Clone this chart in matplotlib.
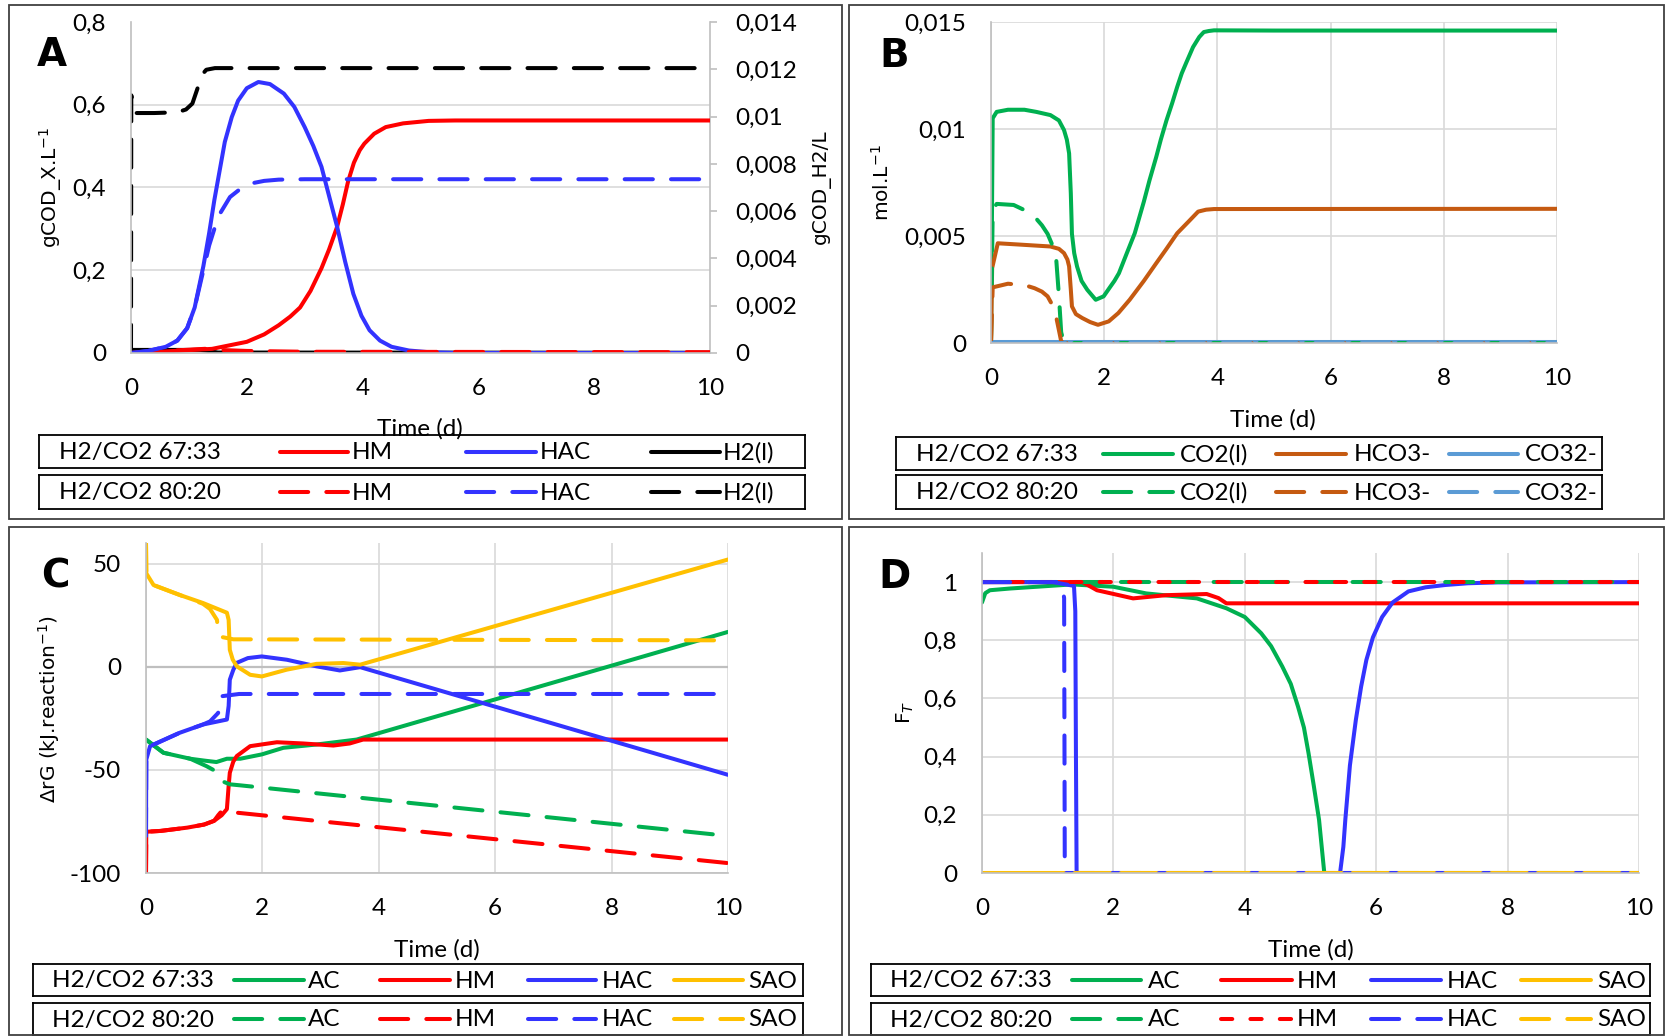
import matplotlib
matplotlib.use("Agg")
import matplotlib.pyplot as plt
from matplotlib.patches import Rectangle
from matplotlib.ticker import FuncFormatter, MultipleLocator, FixedLocator

W, H = 1666, 1036

# ---------------- data ----------------
# Panel A : biomass (left axis) and dissolved H2 (right axis)
a_hm_t = [0, 0.5, 1.0, 1.4, 2.0, 2.3, 2.55, 2.75, 2.92, 3.1, 3.29, 3.42, 3.56, 3.66, 3.75, 3.85, 3.95, 4.03, 4.2, 4.4,
          4.7, 5.14, 5.6, 10]
a_hm_v = [0, 0.003, 0.007, 0.01, 0.027, 0.045, 0.067, 0.088, 0.11, 0.15, 0.205, 0.25, 0.305, 0.36, 0.415, 0.46, 0.49,
          0.506, 0.53, 0.546, 0.555, 0.561, 0.562, 0.562]
a_hac_t = [0, 0.3, 0.6, 0.8, 0.97, 1.1, 1.25, 1.35, 1.44, 1.53, 1.62, 1.74, 1.85, 2.0, 2.2, 2.4, 2.64, 2.82, 3.0, 3.15,
           3.29, 3.42, 3.56, 3.7, 3.84, 3.98, 4.12, 4.3, 4.5, 4.8, 5.14, 5.6, 10]
a_hac_v = [0, 0.005, 0.015, 0.03, 0.06, 0.11, 0.21, 0.29, 0.37, 0.44, 0.51, 0.57, 0.61, 0.64, 0.655, 0.65, 0.627, 0.595,
           0.546, 0.5, 0.45, 0.38, 0.305, 0.22, 0.143, 0.09, 0.055, 0.03, 0.015, 0.006, 0.002, 0.0, 0.0]
a_h2_t = [0, 0.002, 1.2, 1.35, 1.5, 10]
a_h2_v = [0, 0.00013, 0.00013, 0.00008, 0.00002, 0.00001]
a_hm80_t = [0, 0.5, 1.0, 1.4, 1.6, 2.0, 3.0, 10]
a_hm80_v = [0, 0.004, 0.008, 0.011, 0.007, 0.005, 0.003, 0.002]
a_hac80_t = [0, 0.3, 0.6, 0.8, 0.97, 1.1, 1.25, 1.35, 1.44, 1.55, 1.71, 1.9, 2.08, 2.3, 2.55, 3, 10]
a_hac80_v = [0, 0.005, 0.015, 0.03, 0.06, 0.11, 0.2, 0.26, 0.30, 0.34, 0.377, 0.398, 0.41, 0.416, 0.419, 0.42, 0.42]
a_h280_t = [0, 0.005, 0.06, 0.4, 0.8, 0.95, 1.06, 1.15, 1.22, 1.3, 1.45, 10]
a_h280_v = [0, 0.0109, 0.01015, 0.01015, 0.01018, 0.0103, 0.01055, 0.0112, 0.01175, 0.01198, 0.01205, 0.01205]

# Panel B : carbonate species (mol/L)
b_co2_t = [0, 0.03, 0.1, 0.3, 0.59, 0.8, 1.05, 1.2, 1.29, 1.34, 1.38, 1.41, 1.43, 1.47, 1.52, 1.6, 1.7, 1.85, 1.99, 2.1,
           2.18, 2.26, 2.4, 2.54, 2.7, 2.8, 2.92, 3.0, 3.1, 3.2, 3.29, 3.37, 3.45, 3.57, 3.68, 3.76, 3.85, 3.94, 5, 10]
b_co2_v = [0, 0.0105, 0.0108, 0.0109, 0.0109, 0.0108, 0.01065, 0.0104, 0.00995, 0.0095, 0.00886, 0.007, 0.0051, 0.0042,
           0.00358, 0.0029, 0.00249, 0.00202, 0.00218, 0.0026, 0.0029, 0.00326, 0.0042, 0.00513, 0.0066, 0.0076,
           0.0087, 0.0095, 0.0104, 0.0112, 0.01197, 0.0126, 0.0131, 0.01383, 0.0143, 0.01453, 0.01458, 0.01461,
           0.0146, 0.0146]
b_hco3_t = [0, 0.02, 0.12, 0.5, 1.05, 1.2, 1.29, 1.35, 1.38, 1.41, 1.43, 1.5, 1.61, 1.75, 1.89, 2.08, 2.25, 2.45, 2.7,
            2.92, 3.1, 3.29, 3.5, 3.66, 3.8, 3.94, 10]
b_hco3_v = [0, 0.0035, 0.00466, 0.0046, 0.00451, 0.0044, 0.0042, 0.0039, 0.00358, 0.0025, 0.00171, 0.00135, 0.00117,
            0.00098, 0.00085, 0.00101, 0.0014, 0.00202, 0.0029, 0.00373, 0.0044, 0.00513, 0.0057, 0.00614, 0.00623,
            0.00626, 0.00627]
b_co3_t = [0, 10]
b_co3_v = [0.00003, 0.00003]
b_co280_t = [0, 0.03, 0.1, 0.4, 0.6, 0.77, 0.9, 1.0, 1.08, 1.15, 1.2, 1.24, 1.29, 10]
b_co280_v = [0, 0.0062, 0.0065, 0.00645, 0.0062, 0.0059, 0.0055, 0.0051, 0.0046, 0.004, 0.0022, 0.0005, 0, 0]
b_hco380_t = [0, 0.03, 0.3, 0.6, 0.77, 0.9, 1.0, 1.1, 1.15, 1.2, 1.24, 1.28, 10]
b_hco380_v = [0, 0.0026, 0.00277, 0.0027, 0.00256, 0.0024, 0.00218, 0.0017, 0.00124, 0.0006, 0.00008, 0, 0]
b_co380_t = [0, 10]
b_co380_v = [0, 0]

# Panel C : Gibbs energy of reaction (kJ/reaction)
c_ac_t = [0, 0.3, 0.76, 1.0, 1.21, 1.39, 1.62, 1.99, 2.36, 2.93, 3.62, 10]
c_ac_v = [-35.3, -41.7, -44.6, -45.5, -46.2, -44.6, -44.6, -42.5, -39.3, -37.7, -35.3, 16.9]
c_hm_t = [0, 0.005, 0.25, 0.71, 1.0, 1.17, 1.3, 1.39, 1.42, 1.44, 1.5, 1.56, 1.79, 2.25, 2.7, 3.22, 3.5, 3.73, 10]
c_hm_v = [-100, -80, -79.6, -78, -76.5, -74.7, -72, -69, -57.8, -51.4, -46, -43.3, -38.5, -36.6, -37.2, -38.2, -37.2,
          -35.3, -35.3]
c_hac_t = [0, 0.005, 0.07, 0.58, 0.98, 1.39, 1.42, 1.44, 1.5, 1.56, 1.75, 1.99, 2.42, 2.93, 3.33, 3.68, 10]
c_hac_v = [-82, -45, -38.5, -32, -28, -25.6, -19, -6.3, -1.5, 1.9, 4.2, 5.0, 3.4, 0.2, -1.8, -0.2, -52.4]
c_sao_t = [0, 0.005, 0.13, 0.58, 0.98, 1.39, 1.42, 1.44, 1.49, 1.56, 1.79, 1.99, 2.42, 2.93, 3.39, 3.68, 10]
c_sao_v = [60, 45.3, 39.6, 34.8, 30.9, 26.2, 22.7, 8.2, 3.5, 0.2, -3.9, -4.7, -1.4, 1.4, 1.8, 1.0, 52]
c_ac80_t = [0, 0.3, 0.76, 1.04, 1.24, 1.3, 1.44, 1.62, 10]
c_ac80_v = [-35.3, -41.7, -44.6, -48.2, -51.3, -55.4, -57, -57.5, -82]
c_hm80_t = [0, 0.005, 0.25, 0.71, 1.0, 1.17, 1.24, 1.3, 10]
c_hm80_v = [-100, -80, -79.6, -78, -76.5, -74.7, -72, -70, -95.2]
c_hac80_t = [0, 0.005, 0.07, 0.58, 0.98, 1.1, 1.24, 1.26, 1.3, 1.6, 10]
c_hac80_v = [-82, -45, -38.5, -32, -28, -26.5, -22.4, -16, -14.3, -13.2, -13.2]
c_sao80_t = [0, 0.005, 0.13, 0.58, 0.98, 1.1, 1.22, 1.24, 1.27, 1.5, 10]
c_sao80_v = [60, 45.3, 39.6, 34.8, 30.5, 28, 22.7, 16, 14.6, 13.3, 12.8]

# Panel D : thermodynamic factor F_T
d_ac_t = [0, 0.05, 0.12, 0.43, 1.37, 2.0, 2.5, 3.27, 3.72, 4.0, 4.25, 4.4, 4.57, 4.7, 4.81, 4.9, 4.97, 5.05, 5.13, 5.21, 10]
d_ac_v = [0.93, 0.962, 0.972, 0.978, 0.992, 0.984, 0.961, 0.944, 0.91, 0.88, 0.824, 0.78, 0.71, 0.65, 0.572, 0.5,
          0.412, 0.3, 0.183, 0.0, 0.0]
d_hm_t = [0, 1.53, 1.75, 2.3, 2.8, 3.42, 3.6, 3.72, 10]
d_hm_v = [1, 1, 0.972, 0.944, 0.955, 0.959, 0.945, 0.927, 0.927]
d_hac_t = [0, 1.08, 1.4, 1.42, 1.43, 1.44, 5.45, 5.5, 5.53, 5.6, 5.69, 5.77, 5.85, 5.95, 6.09, 6.25, 6.49, 6.75, 7.05,
           7.4, 7.85, 10]
d_hac_v = [1, 1, 0.987, 0.9, 0.4, 0, 0, 0.09, 0.183, 0.37, 0.526, 0.64, 0.732, 0.81, 0.88, 0.93, 0.968, 0.982, 0.99,
           0.996, 0.999, 1]
d_sao_t = [0, 10]
d_sao_v = [0, 0]
d_ac80_t = [0, 10]
d_ac80_v = [1, 1]
d_hm80_t = [0, 10]
d_hm80_v = [1, 1]
d_hac80_t = [0, 1.15, 1.22, 1.25, 1.26, 10]
d_hac80_v = [1, 1, 0.99, 0.945, 0, 0]
d_sao80_t = [0, 10]
d_sao80_v = [0, 0]

# ---------------- style ----------------
RED, BLUE, BLACK = "#FF0000", "#3333FF", "#000000"
GREEN, ORANGE, LBLUE, YELLOW = "#00B050", "#C55A11", "#5B9BD5", "#FFC000"
GRID, AXIS = "#d9d9d9", "#bfbfbf"
LW = 2.9
DASH = (7, 4.5)
DOT = (2.8, 4.5)
TICK_FONT = "Lato"
YLAB_FONT = "DejaVu Sans"
TICK_SIZE = 17.5
YLAB_SIZE = 14.5

fig = plt.figure(figsize=(W / 100, H / 100), dpi=100)


def px_box(x0, y0, x1, y1):
    return [x0 / W, 1 - y1 / H, (x1 - x0) / W, (y1 - y0) / H]


def comma(v, pos=None):
    return f"{round(v, 6):g}".replace(".", ",")


def line(ax, t, v, color, dashes=None, z=2):
    if dashes is None:
        ax.plot(t, v, color=color, lw=LW, solid_capstyle="round", solid_joinstyle="round", zorder=z)
    else:
        ax.plot(t, v, color=color, lw=LW, dashes=dashes, dash_capstyle="round", zorder=z)


def setup(ax, ymin, ymax, ystep, gridmax=None):
    ax.set_xlim(0, 10)
    ax.set_ylim(ymin, ymax)
    ax.xaxis.set_major_locator(MultipleLocator(2))
    top = gridmax if gridmax is not None else ymax
    ax.yaxis.set_major_locator(FixedLocator(
        [ymin + i * ystep for i in range(int(round((top - ymin) / ystep)) + 1)]))
    ax.yaxis.set_major_formatter(FuncFormatter(comma))
    ax.xaxis.set_major_formatter(FuncFormatter(comma))
    ax.tick_params(length=0, labelsize=TICK_SIZE)
    ax.tick_params(axis="y", pad=18)
    ax.tick_params(axis="x", pad=18)
    for lab in ax.get_xticklabels() + ax.get_yticklabels():
        lab.set_fontfamily(TICK_FONT)
    for s in ["top", "right"]:
        ax.spines[s].set_visible(False)
    for s in ["left", "bottom"]:
        ax.spines[s].set_color(AXIS)
        ax.spines[s].set_linewidth(1.2)
    ax.grid(True, color=GRID, lw=1.2)
    ax.set_axisbelow(True)


def legend_box(x0, x1, y0, y1, title, tx, entries, dashes):
    lax = fig.add_axes(px_box(x0, y0, x1, y1))
    lax.set_xlim(x0, x1)
    lax.set_ylim(y1, y0)
    lax.set_xticks([])
    lax.set_yticks([])
    for s in lax.spines.values():
        s.set_color("#000000")
        s.set_linewidth(1.3)
    yc = (y0 + y1) / 2
    lax.text(tx, yc + 1, title, fontsize=17.5, family=TICK_FONT, va="center", ha="left")
    for (lx0, lx1, ltx, name, color), dsh in zip(entries, dashes):
        if dsh is None:
            lax.plot([lx0, lx1], [yc, yc], color=color, lw=LW, solid_capstyle="round")
        else:
            lax.plot([lx0, lx1], [yc, yc], color=color, lw=LW, dashes=dsh, dash_capstyle="round")
        lax.text(ltx, yc + 1, name, fontsize=17.5, family=TICK_FONT, va="center", ha="left")


def label(x, y, s, rot=0, size=17.5, family=TICK_FONT, weight="normal"):
    fig.text(x / W, 1 - y / H, s, rotation=rot, fontsize=size, family=family, weight=weight,
             ha="center", va="center")


# panel frames
for (x0, y0, x1, y1) in [(9, 5, 842, 519), (849, 5, 1664, 519), (9, 527, 842, 1035), (849, 527, 1664, 1035)]:
    fig.add_artist(Rectangle((x0 / W, 1 - y1 / H), (x1 - x0) / W, (y1 - y0) / H, transform=fig.transFigure,
                             fill=False, edgecolor="#404040", lw=1.3))

# ---------------- panel A ----------------
axA = fig.add_axes(px_box(131, 22, 710, 353))
setup(axA, 0, 0.8, 0.2)
axA.grid(False)
tax = axA.twinx()
tax.set_ylim(0, 0.014)
tax.yaxis.set_major_locator(MultipleLocator(0.002))
tax.yaxis.set_major_formatter(FuncFormatter(comma))
tax.yaxis.set_minor_locator(FixedLocator([v * 0.014 / 0.8 for v in [0, 0.2, 0.4, 0.6, 0.8]]))
tax.tick_params(axis="y", which="major", length=5, color=AXIS, width=1.2, pad=13, labelsize=TICK_SIZE)
tax.tick_params(axis="y", which="minor", length=0)
for lab in tax.get_yticklabels():
    lab.set_fontfamily(TICK_FONT)
tax.grid(True, which="minor", axis="y", color=GRID, lw=1.2)
tax.grid(True, which="major", axis="x", color=GRID, lw=1.2)
tax.set_axisbelow(True)
for s in ["top", "left", "bottom"]:
    tax.spines[s].set_visible(False)
tax.spines["right"].set_color(AXIS)
tax.spines["right"].set_linewidth(1.2)
tax.set_zorder(axA.get_zorder() - 1)
axA.patch.set_visible(False)

line(tax, a_h2_t, a_h2_v, BLACK)
line(tax, a_h280_t, a_h280_v, BLACK, DASH)
line(axA, a_hm_t, a_hm_v, RED)
line(axA, a_hac_t, a_hac_v, BLUE)
line(axA, a_hm80_t, a_hm80_v, RED, DASH)
line(axA, a_hac80_t, a_hac80_v, BLUE, DASH)

label(420, 429, "Time (d)")
label(51, 187, "gCOD_X.L$^{-1}$", rot=90, size=YLAB_SIZE, family=YLAB_FONT)
label(821, 187, "gCOD_H2/L", rot=90, size=YLAB_SIZE, family=YLAB_FONT)
label(52, 55, "A", size=28, family="DejaVu Sans", weight="bold")
ents = [(280, 348, 352, "HM", RED), (466, 536, 540, "HAC", BLUE), (651, 720, 723, "H2(l)", BLACK)]
legend_box(39, 805, 435, 468, "H2/CO2 67:33", 59, ents, [None] * 3)
legend_box(39, 805, 475, 509, "H2/CO2 80:20", 59, ents, [DASH] * 3)

# ---------------- panel B ----------------
axB = fig.add_axes(px_box(991, 22, 1557, 343))
setup(axB, 0, 0.015, 0.005)
line(axB, b_co2_t, b_co2_v, GREEN)
line(axB, b_hco3_t, b_hco3_v, ORANGE)
line(axB, b_co3_t, b_co3_v, LBLUE)
line(axB, b_co280_t, b_co280_v, GREEN, DASH)
line(axB, b_hco380_t, b_hco380_v, ORANGE, DASH)
line(axB, b_co380_t, b_co380_v, LBLUE, DASH)

label(1273, 420, "Time (d)")
label(882, 183, "mol.L$^{-1}$", rot=90, size=YLAB_SIZE, family=YLAB_FONT)
label(894, 56, "B", size=28, family="DejaVu Sans", weight="bold")
ents = [(1103, 1173, 1180, "CO2(l)", GREEN), (1276, 1346, 1354, "HCO3-", ORANGE), (1449, 1518, 1525, "CO32-", LBLUE)]
legend_box(896, 1602, 437, 470, "H2/CO2 67:33", 916, ents, [None] * 3)
legend_box(896, 1602, 475, 509, "H2/CO2 80:20", 916, ents, [DASH] * 3)

# ---------------- panel C ----------------
axC = fig.add_axes(px_box(146, 543, 728, 873))
setup(axC, -100, 60, 50, gridmax=50)
axC.axhline(0, color=AXIS, lw=1.6, zorder=1)
line(axC, c_ac_t, c_ac_v, GREEN)
line(axC, c_hm_t, c_hm_v, RED)
line(axC, c_hac_t, c_hac_v, BLUE)
line(axC, c_sao_t, c_sao_v, YELLOW)
line(axC, c_ac80_t, c_ac80_v, GREEN, DASH)
line(axC, c_hm80_t, c_hm80_v, RED, DASH)
line(axC, c_hac80_t, c_hac80_v, BLUE, DASH)
line(axC, c_sao80_t, c_sao80_v, YELLOW, DASH)

label(437, 950, "Time (d)")
label(49, 709, "ΔrG (kJ.reaction$^{-1}$)", rot=90, size=YLAB_SIZE, family=YLAB_FONT)
label(55, 577, "C", size=28, family="DejaVu Sans", weight="bold")
ents = [(234, 304, 308, "AC", GREEN), (380, 450, 455, "HM", RED), (528, 596, 602, "HAC", BLUE),
        (674, 743, 748, "SAO", YELLOW)]
legend_box(33, 803, 964, 996, "H2/CO2 67:33", 52, ents, [None] * 4)
legend_box(33, 803, 1003, 1035, "H2/CO2 80:20", 52, ents, [DASH] * 4)

# ---------------- panel D ----------------
axD = fig.add_axes(px_box(982, 553, 1639, 873))
setup(axD, 0, 1.1, 0.2, gridmax=1.0)
line(axD, d_ac_t, d_ac_v, GREEN)
line(axD, d_hm_t, d_hm_v, RED)
line(axD, d_hac_t, d_hac_v, BLUE)
line(axD, d_sao_t, d_sao_v, YELLOW)
line(axD, d_ac80_t, d_ac80_v, GREEN, DASH)
line(axD, d_hm80_t, d_hm80_v, RED, DOT)
line(axD, d_hac80_t, d_hac80_v, BLUE, DASH)
line(axD, d_sao80_t, d_sao80_v, YELLOW, DASH)

label(1311, 950, "Time (d)")
label(905, 712, "F$_{T}$", rot=90, size=YLAB_SIZE, family=YLAB_FONT)
label(895, 577, "D", size=28, family="DejaVu Sans", weight="bold")
ents = [(1072, 1141, 1148, "AC", GREEN), (1221, 1292, 1297, "HM", RED), (1371, 1441, 1447, "HAC", BLUE),
        (1521, 1591, 1597, "SAO", YELLOW)]
legend_box(871, 1650, 964, 996, "H2/CO2 67:33", 890, ents, [None] * 4)
legend_box(871, 1650, 1003, 1035, "H2/CO2 80:20", 890, ents, [DASH, DOT, DASH, DASH])

fig.savefig("out.png", dpi=100)
